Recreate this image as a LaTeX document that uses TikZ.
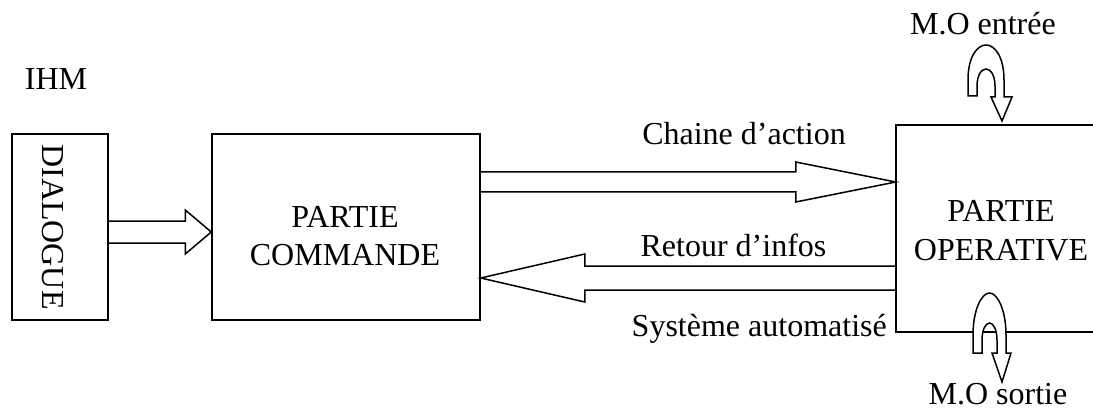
\documentclass[tikz,border=0pt]{standalone}
\usepackage{fontspec}
\setmainfont{Liberation Serif}
\usetikzlibrary{calc}

% horizontal block arrow: #1 tail point, #2 tip point,
% #3 half shaft width, #4 half head width, #5 signed head length
\newcommand\hblock[5]{%
  \draw[blockline] let \p1=(#1), \p2=(#2) in
    (\x1,\y1+#3) -- (\x2-#5,\y1+#3) -- (\x2-#5,\y1+#4) -- (\x2,\y2)
    -- (\x2-#5,\y1-#4) -- (\x2-#5,\y1-#3) -- (\x1,\y1-#3);
}

\tikzset{
  box/.style={draw, line width=1.5pt, rectangle, inner sep=0pt},
  blockline/.style={line width=1.5pt, line join=miter},
  uarrow/.style={draw, fill=white, line width=1.5pt, line join=miter},
  txt/.style={font=\fontsize{32}{38}\selectfont, inner sep=0pt},
  lbl/.style={txt, anchor=base},
}

\begin{document}
\begin{tikzpicture}[x=1pt, y=-1pt]
\useasboundingbox (0,0) rectangle (1093,409);

% boxes
\node[box, minimum width=96pt, minimum height=186pt] (dl) at (60,227) {};
\node[box, minimum width=268pt, minimum height=186pt] (pc) at (346,227) {};
\node[inner sep=0pt, minimum width=197pt, minimum height=207pt] (po) at (994.5,228.5) {};
\draw[line width=1.5pt] (po.north east) -- (po.north west) -- (po.south west) -- (po.south east);

% texts
\node[lbl] (ihm) at (56,90) {IHM};
\node[txt, rotate=-90] (dltext) at (53,227) {DIALOGUE};
\node[lbl] (pc1) at (345,227) {PARTIE};
\node[lbl] (pc2) at (345,265) {COMMANDE};
\node[lbl] (po1) at (1001,222) {PARTIE};
\node[lbl] (po2) at (1001,260) {OPERATIVE};
\node[lbl] (ca) at (744,145) {Chaine d’action};
\node[lbl] (ri) at (733.5,256) {Retour d’infos};
\node[lbl, anchor=base east] (sa) at (887,336) {Système automatisé};
\node[lbl, anchor=base east] (moe) at (1056,35) {M.O entrée};
\node[lbl] (mos) at (998,404) {M.O sortie};

% flows between the parts
\coordinate (d1) at ($(dl.east)+(0,5)$);
\hblock{d1}{pc.west |- d1}{11pt}{22pt}{26pt}
\coordinate (c1) at ($(pc.east)+(0,-45)$);
\hblock{c1}{po.west |- c1}{10pt}{20pt}{100pt}
\coordinate (o1) at ($(pc.east)+(0,51)$);
\hblock{po.west |- o1}{o1}{12pt}{24pt}{-104pt}

% material flows in and out of the operative part
\coordinate (mi) at (986,0);
\draw[uarrow, shift={(mi)}]
  (-18,96) -- (-18,80) .. controls (-18,57) and (-9,45) .. (0,45)
  .. controls (9,45) and (18,57) .. (18,80) -- (18,97) -- (26,97)
  -- (16,121) -- (5,97) -- (9,97) -- (9,86)
  .. controls (9,76) and (5,69) .. (0,69)
  .. controls (-5,69) and (-9,76) .. (-9,86) -- (-9,96) -- cycle;
\coordinate (mo) at (989.5,0);
\draw[uarrow, shift={(mo)}]
  (-16.5,353) -- (-16.5,335) .. controls (-16.5,310) and (-8,293) .. (0,293)
  .. controls (8,293) and (16.5,310) .. (16.5,335) -- (16.5,353) -- (21.5,353)
  -- (12.5,382) -- (2.5,353) -- (7.5,353) -- (7.5,340)
  .. controls (7.5,330) and (4,323) .. (0,323)
  .. controls (-4,323) and (-7.5,330) .. (-7.5,340) -- (-7.5,353) -- cycle;
\end{tikzpicture}
\end{document}
